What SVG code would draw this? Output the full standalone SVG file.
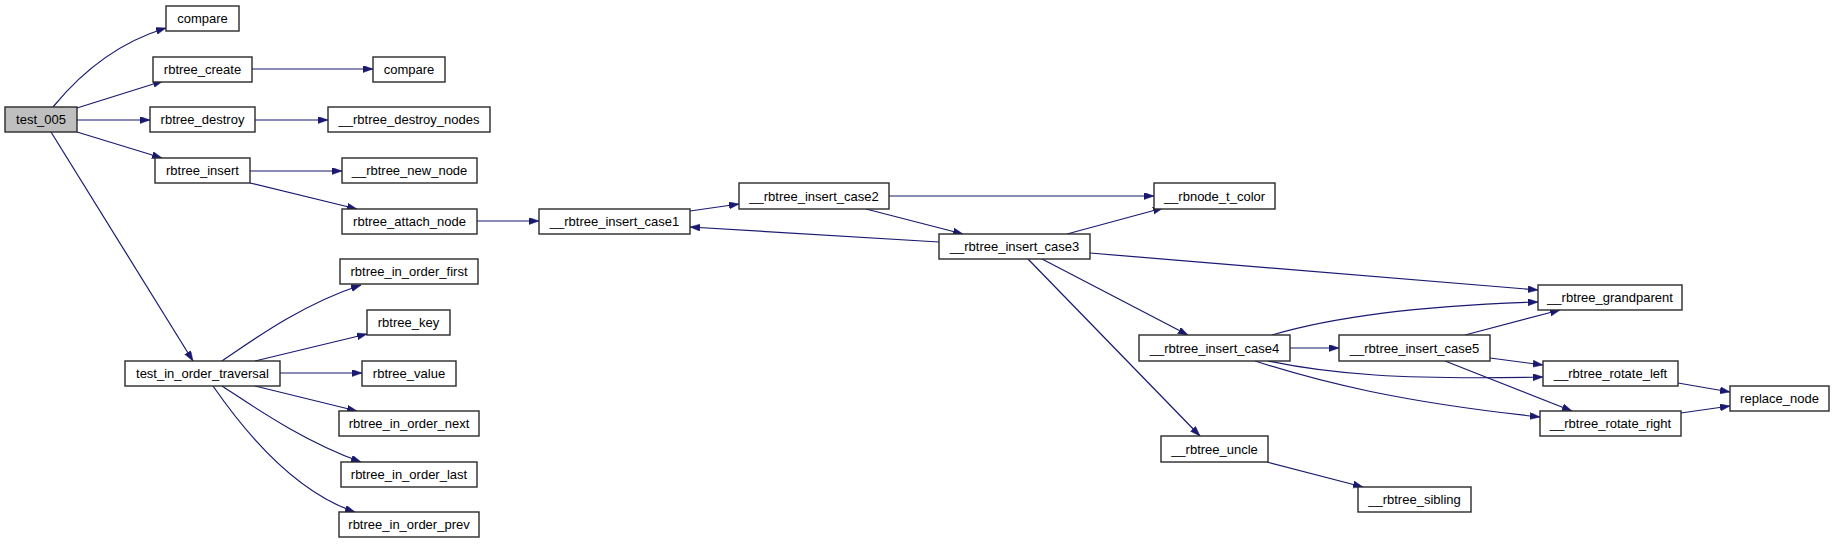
<svg xmlns="http://www.w3.org/2000/svg" width="1835" height="544" viewBox="0 0 1835 544">
<defs>
<style>
.n rect{fill:#fff;stroke:#2a2a2a;stroke-width:1.4}
.n.root rect{fill:#bfbfbf}
.n text{font-family:"Liberation Sans",Arial,sans-serif;font-size:13px;fill:#000;text-anchor:middle}
#edges path{fill:none;stroke:#191970;stroke-width:1.2;marker-end:url(#ah)}
</style>
<marker id="ah" markerUnits="userSpaceOnUse" markerWidth="11" markerHeight="8" refX="10" refY="3.5" orient="auto">
<path d="M0,0 L10,3.5 L0,7 z" fill="#191970" stroke="#191970" stroke-width="0.5"/>
</marker>
</defs>
<rect width="1835" height="544" fill="#fff"/>
<g id="edges">
<path d="M53,107 C75,80 110,45 166,28"/>
<path d="M77,108 L163,81"/>
<path d="M77,120 L150,120"/>
<path d="M77,132 L162,158"/>
<path d="M51,132 L193,361"/>
<path d="M252,69 L373,69"/>
<path d="M255,120 L328,120"/>
<path d="M250,171 L342,171"/>
<path d="M250,183 L357,209"/>
<path d="M477,221 L539,221"/>
<path d="M690,211 L739,204"/>
<path d="M889,196 L1154,196"/>
<path d="M866,209 L963,234"/>
<path d="M939,242 L690,227"/>
<path d="M1067,234 L1163,208"/>
<path d="M1090,253 L1538,290"/>
<path d="M1042,259 L1188,335"/>
<path d="M1028,259 L1200,436"/>
<path d="M1272,335 C1340,315 1440,305 1538,302"/>
<path d="M1290,348 L1339,348"/>
<path d="M1465,335 L1560,310"/>
<path d="M1490,358 L1543,365"/>
<path d="M1445,361 L1572,411"/>
<path d="M1268,361 C1330,374 1400,380 1543,377"/>
<path d="M1255,361 C1320,382 1400,402 1540,417"/>
<path d="M1267,462 L1363,487"/>
<path d="M1678,383 L1730,392"/>
<path d="M1681,413 L1730,406"/>
<path d="M222,361 C250,342 300,305 361,285"/>
<path d="M255,361 L367,334"/>
<path d="M280,373 L362,373"/>
<path d="M255,386 L357,411"/>
<path d="M222,386 C250,404 300,440 361,462"/>
<path d="M213,386 C240,425 290,490 355,512"/>
</g>
<g id="test_005" class="n root"><rect x="5" y="107" width="72" height="25"/><text x="41" y="124">test_005</text></g>
<g id="compare_1" class="n"><rect x="166" y="6" width="73" height="25"/><text x="202.5" y="23">compare</text></g>
<g id="rbtree_create" class="n"><rect x="153" y="57" width="99" height="25"/><text x="202.5" y="74">rbtree_create</text></g>
<g id="compare_2" class="n"><rect x="373" y="57" width="72" height="25"/><text x="409" y="74">compare</text></g>
<g id="rbtree_destroy" class="n"><rect x="150" y="107" width="105" height="25"/><text x="202.5" y="124">rbtree_destroy</text></g>
<g id="rbtree_destroy_nodes" class="n"><rect x="328" y="107" width="162" height="25"/><text x="409" y="124">__rbtree_destroy_nodes</text></g>
<g id="rbtree_insert" class="n"><rect x="155" y="158" width="95" height="25"/><text x="202.5" y="175">rbtree_insert</text></g>
<g id="rbtree_new_node" class="n"><rect x="342" y="158" width="135" height="25"/><text x="409.5" y="175">__rbtree_new_node</text></g>
<g id="rbtree_attach_node" class="n"><rect x="342" y="209" width="135" height="25"/><text x="409.5" y="226">rbtree_attach_node</text></g>
<g id="rbtree_in_order_first" class="n"><rect x="340" y="259" width="138" height="25"/><text x="409" y="276">rbtree_in_order_first</text></g>
<g id="rbtree_key" class="n"><rect x="367" y="310" width="83" height="25"/><text x="408.5" y="327">rbtree_key</text></g>
<g id="test_in_order_traversal" class="n"><rect x="125" y="361" width="155" height="25"/><text x="202.5" y="378">test_in_order_traversal</text></g>
<g id="rbtree_value" class="n"><rect x="362" y="361" width="94" height="25"/><text x="409" y="378">rbtree_value</text></g>
<g id="rbtree_in_order_next" class="n"><rect x="339" y="411" width="140" height="25"/><text x="409" y="428">rbtree_in_order_next</text></g>
<g id="rbtree_in_order_last" class="n"><rect x="341" y="462" width="136" height="25"/><text x="409" y="479">rbtree_in_order_last</text></g>
<g id="rbtree_in_order_prev" class="n"><rect x="339" y="512" width="140" height="25"/><text x="409" y="529">rbtree_in_order_prev</text></g>
<g id="rbtree_insert_case1" class="n"><rect x="539" y="209" width="151" height="25"/><text x="614.5" y="226">__rbtree_insert_case1</text></g>
<g id="rbtree_insert_case2" class="n"><rect x="739" y="183" width="150" height="26"/><text x="814" y="200.5">__rbtree_insert_case2</text></g>
<g id="rbtree_insert_case3" class="n"><rect x="939" y="234" width="151" height="25"/><text x="1014.5" y="251">__rbtree_insert_case3</text></g>
<g id="rbnode_t_color" class="n"><rect x="1154" y="183" width="121" height="26"/><text x="1214.5" y="200.5">__rbnode_t_color</text></g>
<g id="rbtree_grandparent" class="n"><rect x="1538" y="285" width="144" height="25"/><text x="1610" y="302">__rbtree_grandparent</text></g>
<g id="rbtree_insert_case4" class="n"><rect x="1139" y="335" width="151" height="26"/><text x="1214.5" y="352.5">__rbtree_insert_case4</text></g>
<g id="rbtree_insert_case5" class="n"><rect x="1339" y="335" width="151" height="26"/><text x="1414.5" y="352.5">__rbtree_insert_case5</text></g>
<g id="rbtree_rotate_left" class="n"><rect x="1543" y="361" width="135" height="25"/><text x="1610.5" y="378">__rbtree_rotate_left</text></g>
<g id="rbtree_rotate_right" class="n"><rect x="1540" y="411" width="141" height="25"/><text x="1610.5" y="428">__rbtree_rotate_right</text></g>
<g id="replace_node" class="n"><rect x="1730" y="386" width="99" height="25"/><text x="1779.5" y="403">replace_node</text></g>
<g id="rbtree_uncle" class="n"><rect x="1161" y="436" width="107" height="26"/><text x="1214.5" y="453.5">__rbtree_uncle</text></g>
<g id="rbtree_sibling" class="n"><rect x="1358" y="487" width="113" height="25"/><text x="1414.5" y="504">__rbtree_sibling</text></g>
</svg>
